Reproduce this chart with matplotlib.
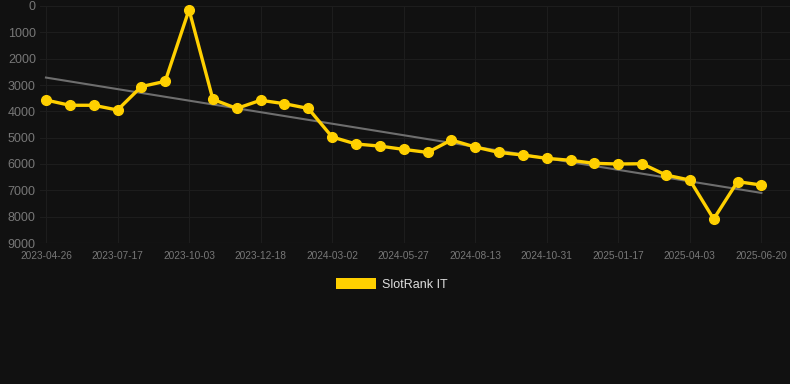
import matplotlib
matplotlib.use('Agg')
import matplotlib.pyplot as plt
import numpy as np
from matplotlib.patches import Rectangle

plt.rcParams['font.family'] = ['Liberation Sans', 'DejaVu Sans']

BG = '#111111'; GOLD = '#FFD000'; GRID = '#1d1d1d'; TICK = '#777777'

dates = ['2023-04-26', '', '', '2023-07-17', '', '', '2023-10-03', '', '', '2023-12-18',
         '', '', '2024-03-02', '', '', '2024-05-27', '', '', '2024-08-13', '', '',
         '2024-10-31', '', '', '2025-01-17', '', '', '2025-04-03', '', '', '2025-06-20']
rank = [3570, 3770, 3770, 3950, 3060, 2860, 140, 3545, 3890, 3580,
        3710, 3890, 4975, 5240, 5320, 5445, 5560, 5090, 5355, 5560,
        5660, 5785, 5860, 5975, 6000, 5990, 6420, 6610, 8090, 6670, 6800]

x = np.arange(len(rank))
k, b = np.polyfit(x, rank, 1)

fig = plt.figure(figsize=(7.9, 3.84), dpi=100, facecolor=BG)
ax = fig.add_axes([40/790, 1 - 243/384, 750/790, 237/384])
ax.set_facecolor(BG)
ax.set_xlim(-0.25, 31.2)
ax.set_ylim(9000, 0)

ax.plot(x, k*x + b, color='#6e6e6e', lw=1.5, zorder=2)
ax.plot(x, rank, color=GOLD, lw=2.4, marker='o', ms=7, mfc=GOLD, mec=GOLD,
        zorder=3, clip_on=False)

ax.set_yticks(range(0, 9001, 1000))
ax.set_yticklabels([str(v) for v in range(0, 9001, 1000)])
ax.set_xticks(x[::3])
ax.set_xticklabels([d for d in dates if d])
ax.tick_params(axis='y', length=0, pad=3, labelsize=9, labelcolor=TICK)
ax.tick_params(axis='x', length=0, pad=6, labelsize=7.3, labelcolor=TICK)
ax.grid(True, color=GRID, lw=0.8)
ax.axhline(9000, color='#2a2a2a', lw=0.8, zorder=1)
for s in ax.spines.values():
    s.set_visible(False)

# legend
fig.patches.append(Rectangle((336/790, 1 - 289/384), 40/790, 11/384,
                             transform=fig.transFigure, fc=GOLD, ec='none'))
fig.text(382/790, 1 - 284.5/384, 'SlotRank IT', color='#dddddd', fontsize=9,
         ha='left', va='center')

fig.savefig('out.png', dpi=100, facecolor=BG)
